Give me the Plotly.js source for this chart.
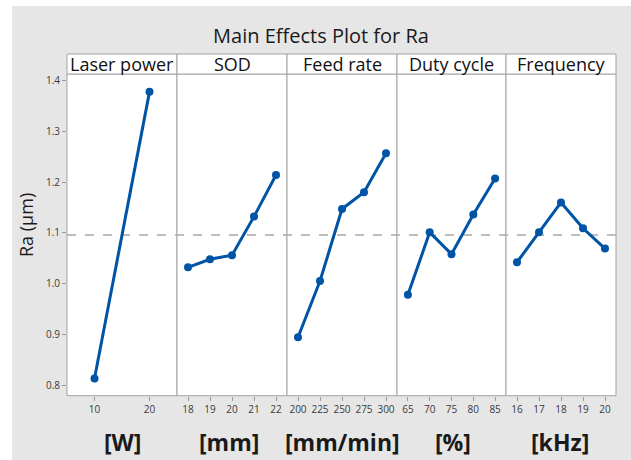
<!DOCTYPE html>
<html>
<head>
<meta charset="utf-8">
<script src="https://cdn.plot.ly/plotly-3.0.1.min.js"></script>
<style>html,body{margin:0;padding:0;background:#fff;}#chart{width:631px;height:460px;}</style>
</head>
<body>
<div id="chart"></div>
<script>
// ---- Data ----
const panelNames = ['Laser power', 'SOD', 'Feed rate', 'Duty cycle', 'Frequency'];
const unitLabels = ['[W]', '[mm]', '[mm/min]', '[%]', '[kHz]'];

const laserLevels = ['10', '20'];
const laserRa = [0.813, 1.378];

const sodLevels = ['18', '19', '20', '21', '22'];
const sodRa = [1.032, 1.048, 1.056, 1.132, 1.214];

const feedLevels = ['200', '225', '250', '275', '300'];
const feedRa = [0.894, 1.005, 1.147, 1.180, 1.257];

const dutyLevels = ['65', '70', '75', '80', '85'];
const dutyRa = [0.978, 1.101, 1.058, 1.136, 1.207];

const freqLevels = ['16', '17', '18', '19', '20'];
const freqRa = [1.042, 1.101, 1.160, 1.109, 1.069];

const overallMean = 1.096;
const yTicks = [0.8, 0.9, 1.0, 1.1, 1.2, 1.3, 1.4];

// ---- Layout geometry (pixels) ----
const W = 631, H = 460;
const panelEdges = [67, 177, 287, 397, 506, 616];
const unitCenters = [122, 229, 342, 453, 560];
const plotTop = 74, plotBottom = 395.7, headerTop = 54;
const px = v => v / W;
const py = v => 1 - v / H;

const FONT = 'Open Sans, Noto Sans, sans-serif';
const blue = '#0054a6';
const borderGray = '#a3a3a3';

const levelSets = [laserLevels, sodLevels, feedLevels, dutyLevels, freqLevels];
const valueSets = [laserRa, sodRa, feedRa, dutyRa, freqRa];

const traces = levelSets.map((lv, i) => ({
  type: 'scatter', mode: 'lines+markers',
  x: lv, y: valueSets[i],
  xaxis: i === 0 ? 'x' : 'x' + (i + 1), yaxis: 'y',
  line: {color: blue, width: 3},
  marker: {color: blue, size: 8},
  showlegend: false, hoverinfo: 'skip'
}));

const layout = {
  width: W, height: H,
  margin: {l: 0, r: 0, t: 0, b: 0},
  paper_bgcolor: '#ffffff', plot_bgcolor: 'rgba(0,0,0,0)',
  font: {family: FONT, color: '#333'},
  title: {text: 'Main Effects Plot for Ra', x: px(321), y: py(36), xanchor: 'center', yanchor: 'middle',
          font: {family: FONT, size: 20, color: '#1a1a1a'}},
  yaxis: {
    domain: [py(plotBottom), py(plotTop)], range: [0.7789, 1.4132],
    tickvals: yTicks, ticktext: yTicks.map(v => v.toFixed(1)),
    ticks: 'outside', ticklen: 4, tickcolor: '#999', tickfont: {size: 10, color: '#3a3a3a', family: FONT},
    showgrid: false, zeroline: false, showline: false, anchor: 'x', fixedrange: true
  },
  shapes: [
    {type: 'rect', xref: 'paper', yref: 'paper', x0: px(12), x1: 1, y0: 0, y1: py(6),
     fillcolor: '#e6e6e6', line: {width: 0}, layer: 'below'}
  ],
  annotations: [
    {text: 'Ra (µm)', xref: 'paper', yref: 'paper', x: px(26), y: py(225), textangle: -90,
     showarrow: false, xanchor: 'center', yanchor: 'middle', font: {family: FONT, size: 18, color: '#1a1a1a'}}
  ]
};

for (let i = 0; i < 5; i++) {
  const key = i === 0 ? 'xaxis' : 'xaxis' + (i + 1);
  const n = levelSets[i].length;
  layout[key] = {
    domain: [px(panelEdges[i]), px(panelEdges[i + 1])],
    type: 'category', range: [-0.5, n - 0.5], anchor: 'y',
    ticks: 'outside', ticklen: 4, tickcolor: '#999',
    tickfont: {size: 10, color: '#3a3a3a', family: FONT},
    showgrid: false, zeroline: false, showline: false, fixedrange: true
  };
  // plot panel (white with gray border)
  layout.shapes.push({type: 'rect', xref: 'paper', yref: 'paper',
    x0: px(panelEdges[i]), x1: px(panelEdges[i + 1]), y0: py(plotBottom), y1: py(plotTop),
    fillcolor: '#ffffff', line: {color: borderGray, width: 1}, layer: 'below'});
  // header strip
  layout.shapes.push({type: 'rect', xref: 'paper', yref: 'paper',
    x0: px(panelEdges[i]), x1: px(panelEdges[i + 1]), y0: py(plotTop), y1: py(headerTop),
    fillcolor: '#ffffff', line: {color: borderGray, width: 1}, layer: 'below'});
  layout.annotations.push({text: panelNames[i], xref: 'paper', yref: 'paper',
    x: px((panelEdges[i] + panelEdges[i + 1]) / 2), y: py((plotTop + headerTop) / 2 - 0.5),
    showarrow: false, xanchor: 'center', yanchor: 'middle',
    font: {family: FONT, size: 18, color: '#111'}});
  layout.annotations.push({text: '<b>' + unitLabels[i] + '</b>', xref: 'paper', yref: 'paper',
    x: px(unitCenters[i]), y: py(442),
    showarrow: false, xanchor: 'center', yanchor: 'middle',
    font: {family: FONT, size: 23, color: '#1a1a1a'}});
}

// grand-mean reference line
layout.shapes.push({type: 'line', xref: 'paper', yref: 'y',
  x0: px(panelEdges[0]), x1: px(panelEdges[5]), y0: overallMean, y1: overallMean,
  line: {color: '#a8a8a8', width: 1.5, dash: 'dash'}, layer: 'below'});

Plotly.newPlot('chart', traces, layout, {staticPlot: true, displayModeBar: false});
</script>
</body>
</html>
